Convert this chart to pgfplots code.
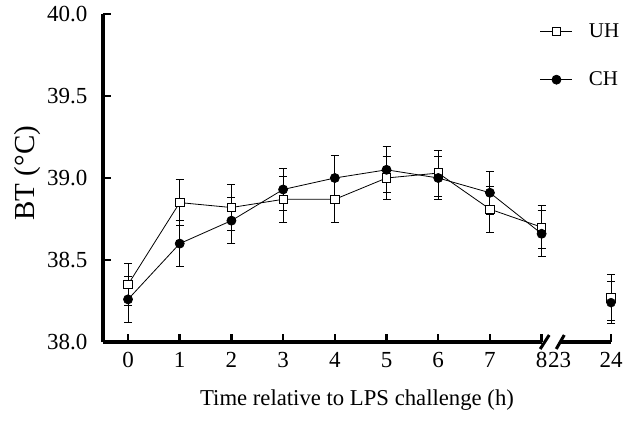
\documentclass[border=0pt]{standalone}
\usepackage{fontspec}
\setmainfont{Liberation Serif}
\usepackage{pgfplots}
\pgfplotsset{compat=1.18}
\usepackage{pgfplotstable}

\pgfplotstableread{
x y e
0 38.35 0.13
1 38.85 0.14
2 38.82 0.14
3 38.87 0.14
4 38.87 0.14
5 39.00 0.13
6 39.03 0.14
7 38.81 0.14
8 38.70 0.13
}\uh
\pgfplotstableread{
x y e
9.342 38.27 0.14
}\uhb
\pgfplotstableread{
x y e
0 38.26 0.14
1 38.60 0.14
2 38.74 0.14
3 38.93 0.13
4 39.00 0.14
5 39.05 0.14
6 39.00 0.13
7 38.91 0.13
8 38.66 0.14
}\ch
\pgfplotstableread{
x y e
9.342 38.24 0.13
}\chb

\begin{document}
\begin{tikzpicture}
\path[use as bounding box] (0,0) rectangle (624pt,421pt);
\begin{axis}[
  at={(103pt,79pt)}, anchor=south west,
  scale only axis, width=508pt, height=328pt,
  xmin=-0.484, xmax=9.342, ymin=38, ymax=40,
  clip=false,
  axis lines=left,
  axis line style={line width=3.5pt, -},
  x axis line style={draw=none},
  tick align=inside,
  major tick length=8pt,
  tick style={line width=2.5pt, black},
  xtick={0,1,2,3,4,5,6,7,8,9.342},
  xticklabels={0,1,2,3,4,5,6,7,8,24},
  extra x ticks={8.35},
  extra x tick labels={23},
  extra x tick style={major tick length=0pt},
  ytick={38,38.5,39,39.5,40},
  /pgf/number format/assume math mode=true,
  yticklabel style={/pgf/number format/fixed, /pgf/number format/fixed zerofill, /pgf/number format/precision=1, xshift=-12pt, font=\fontsize{23}{26}\selectfont},
  xticklabel style={yshift=-7pt, font=\fontsize{23}{26}\selectfont},
  xlabel={Time relative to LPS challenge (h)},
  xlabel style={at={(axis description cs:0.5,-0.177)}, anchor=center, font=\fontsize{22.7}{26}\selectfont},
  ylabel={BT (°C)},
  ylabel style={at={(axis description cs:-0.148,0.515)}, anchor=center, rotate=0, font=\fontsize{29}{32}\selectfont},
  legend style={at={(axis description cs:0.86,0.977)}, anchor=north west, draw=none, fill=none,
    font=\fontsize{21}{24}\selectfont, row sep=29pt, column sep=14pt, inner sep=0pt},
  legend cell align=left,
  legend image code/.code={\draw[#1, mark repeat=2, mark phase=2] plot coordinates {(0pt,0pt) (16pt,0pt) (32pt,0pt)};},
  error bars/error bar style={line width=1pt, black},
  error bars/error mark options={rotate=90, mark size=4pt, line width=1pt, black},
]
\addplot[black, line width=0.8pt, mark=square*, mark size=4.2pt, mark options={fill=white, line width=0.8pt},
  error bars/.cd, y dir=both, y explicit] table[x=x, y=y, y error=e] {\uh};
\addlegendentry{UH}
\addplot[black, line width=0.8pt, mark=*, mark size=4.5pt, mark options={fill=black},
  error bars/.cd, y dir=both, y explicit] table[x=x, y=y, y error=e] {\ch};
\addlegendentry{CH}
\addplot[black, only marks, forget plot, mark=square*, mark size=4.2pt, mark options={fill=white, line width=0.8pt},
  error bars/.cd, y dir=both, y explicit] table[x=x, y=y, y error=e] {\uhb};
\addplot[black, only marks, forget plot, mark=*, mark size=4.5pt, mark options={fill=black},
  error bars/.cd, y dir=both, y explicit] table[x=x, y=y, y error=e] {\chb};
\draw[line width=3.5pt] (axis cs:-0.484,38) -- (axis cs:8.0,38);
\draw[line width=3pt] ([xshift=-4pt,yshift=-7pt]axis cs:8.05,38) -- ++(9pt,14pt);
\draw[line width=3.5pt] (axis cs:8.36,38) -- (axis cs:9.342,38);
\draw[line width=3pt] ([xshift=-4pt,yshift=-7pt]axis cs:8.36,38) -- ++(8pt,14pt);
\end{axis}
\end{tikzpicture}
\end{document}
